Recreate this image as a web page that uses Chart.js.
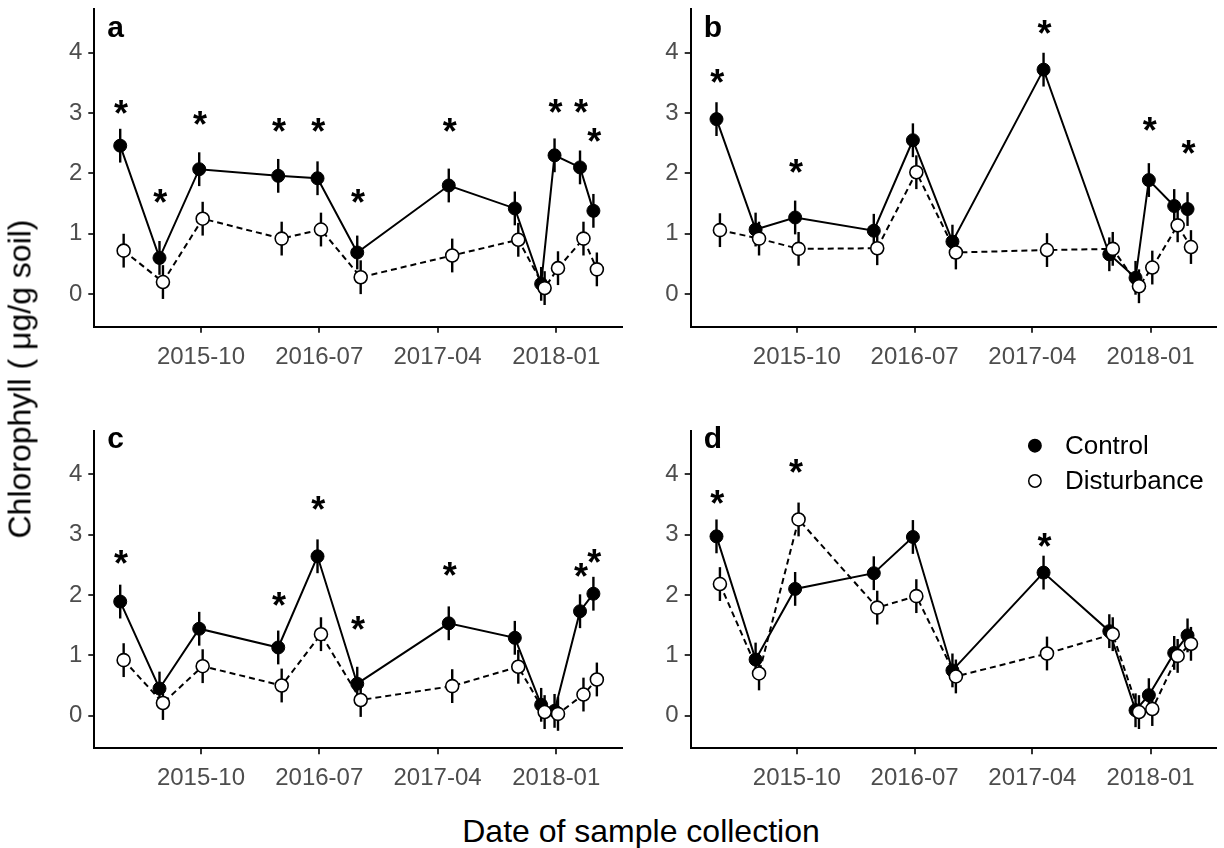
<!DOCTYPE html>
<html>
<head>
<meta charset="utf-8">
<script src="https://cdn.jsdelivr.net/npm/chart.js@4.4.0/dist/chart.umd.min.js"></script>
<style>
  body { margin: 0; background: #fff; width: 1224px; height: 848px; position: relative; overflow: hidden;
         font-family: "Liberation Sans", Arial, sans-serif; }
  canvas { position: absolute; }
  #ytitle { position: absolute; left: 20px; top: 379px; transform: translate(-50%, -50%) rotate(-90deg);
            font-size: 32px; white-space: nowrap; color: #000; }
  #xtitle { position: absolute; left: 641px; top: 831px; transform: translate(-50%, -50%);
            font-size: 32px; white-space: nowrap; color: #000; }
</style>
</head>
<body>
<canvas id="pa" width="630" height="390" style="left:0;top:0"></canvas>
<canvas id="pb" width="604" height="390" style="left:620px;top:0"></canvas>
<canvas id="pc" width="630" height="380" style="left:0;top:420px"></canvas>
<canvas id="pd" width="604" height="380" style="left:620px;top:420px"></canvas>
<div id="ytitle">Chlorophyll ( μg/g soil)</div>
<div id="xtitle">Date of sample collection</div>

<script>
// sampling dates (same for all panels)
const sampleDates = ["2015-04-01", "2015-07-01", "2015-10-01", "2016-04-01", "2016-07-01", "2016-10-01",
                     "2017-05-01", "2017-10-01", "2017-12-01", "2018-01-01", "2018-03-01", "2018-04-01"];
const tickDates = ["2015-10-01", "2016-07-01", "2017-04-01", "2018-01-01"];
const tickLabels = ["2015-10", "2016-07", "2017-04", "2018-01"];
const yTicks = [0, 1, 2, 3, 4];
const seriesNames = ["Control", "Disturbance"];

// panel a
const controlA = [2.46, 0.60, 2.07, 1.96, 1.92, 0.69, 1.80, 1.42, 0.17, 2.30, 2.10, 1.38];
const disturbA = [0.72, 0.20, 1.25, 0.92, 1.07, 0.28, 0.64, 0.90, 0.10, 0.43, 0.92, 0.41];
const starsA   = [3.10, 1.62, 2.92, 2.81, 2.81, 1.62, 2.81, null, null, 3.11, 3.11, 2.63];
// panel b
const controlB = [2.90, 1.07, 1.27, 1.05, 2.55, 0.87, 3.72, 0.66, 0.27, 1.89, 1.46, 1.41];
const disturbB = [1.06, 0.92, 0.75, 0.76, 2.02, 0.69, 0.73, 0.75, 0.13, 0.44, 1.14, 0.78];
const starsB   = [3.61, null, 2.13, null, null, null, 4.42, null, null, 2.82, null, 2.43];
// panel c
const controlC = [1.89, 0.45, 1.44, 1.13, 2.64, 0.53, 1.53, 1.29, 0.18, 0.08, 1.73, 2.02];
const disturbC = [0.92, 0.21, 0.82, 0.50, 1.35, 0.26, 0.49, 0.81, 0.06, 0.03, 0.35, 0.60];
const starsC   = [2.62, null, null, 1.93, 3.53, 1.53, 2.43, null, null, null, 2.42, 2.64];
// panel d
const controlD = [2.97, 0.93, 2.10, 2.36, 2.96, 0.75, 2.37, 1.40, 0.09, 0.34, 1.04, 1.33];
const disturbD = [2.18, 0.70, 3.25, 1.79, 1.98, 0.65, 1.03, 1.35, 0.06, 0.11, 0.99, 1.19];
const starsD   = [3.62, null, 4.13, null, null, null, 2.91, null, null, null, null, null];

const seHalf = 0.28; // error bar half length, all points

const DAY = 86400000;
const dodge = 4 * DAY;
const xMin = Date.parse("2015-01-27");
const xMax = Date.parse("2018-06-02");
const yMin = -0.54, yMax = 4.72;
const FONT = '"Liberation Sans", Arial, sans-serif';

Chart.defaults.font.family = FONT;

function pts(vals, shift) {
  return vals.map((v, i) => ({ x: Date.parse(sampleDates[i]) + shift, y: v }));
}

function makePanel(id, letter, letterDy, ctrl, dist, stars, box, withLegend) {
  const extras = {
    id: "extras" + id,
    beforeDatasetsDraw(chart) {
      const { ctx, scales: { x, y } } = chart;
      ctx.save();
      ctx.strokeStyle = "#000";
      ctx.lineWidth = 2.4;
      [[ctrl, -dodge], [dist, dodge]].forEach(([vals, sh]) => {
        vals.forEach((v, i) => {
          const px = x.getPixelForValue(Date.parse(sampleDates[i]) + sh);
          ctx.beginPath();
          ctx.moveTo(px, y.getPixelForValue(v - seHalf));
          ctx.lineTo(px, y.getPixelForValue(v + seHalf));
          ctx.stroke();
        });
      });
      ctx.restore();
    },
    afterDatasetsDraw(chart) {
      const { ctx, chartArea, scales: { x, y } } = chart;
      ctx.save();
      ctx.fillStyle = "#000";
      // significance stars
      ctx.font = "bold 36px " + FONT;
      ctx.textAlign = "center";
      ctx.textBaseline = "alphabetic";
      const m = ctx.measureText("*");
      const off = (m.actualBoundingBoxAscent - m.actualBoundingBoxDescent) / 2;
      stars.forEach((s, i) => {
        if (s === null) return;
        const px = x.getPixelForValue(Date.parse(sampleDates[i]) - dodge / 2);
        ctx.fillText("*", px, y.getPixelForValue(s) + off);
      });
      // panel letter
      ctx.font = "bold 30px " + FONT;
      ctx.textAlign = "left";
      ctx.fillText(letter, chartArea.left + 13, chartArea.top + letterDy);
      // legend
      if (withLegend) {
        const lx = chartArea.right - 181;
        ctx.font = "26px " + FONT;
        ctx.textBaseline = "middle";
        seriesNames.forEach((name, k) => {
          const ly = chartArea.top + 15 + k * 35.3;
          ctx.beginPath();
          ctx.arc(lx, ly, 6.2, 0, Math.PI * 2);
          ctx.fillStyle = k === 0 ? "#000" : "#fff";
          ctx.fill();
          ctx.lineWidth = 1.5;
          ctx.strokeStyle = "#000";
          ctx.stroke();
          ctx.fillStyle = "#000";
          ctx.fillText(name, lx + 30, ly + 1);
        });
      }
      ctx.restore();
    }
  };

  return new Chart(document.getElementById(id), {
    type: "line",
    data: {
      datasets: [
        { label: "Disturbance", data: pts(dist, dodge), showLine: false, pointRadius: 6.5,
          pointBackgroundColor: "#fff", pointBorderColor: "#000", pointBorderWidth: 1.6 },
        { label: "Control", data: pts(ctrl, -dodge), showLine: false, pointRadius: 6.5,
          pointBackgroundColor: "#000", pointBorderColor: "#000", pointBorderWidth: 1 },
        { data: pts(dist, dodge), borderColor: "#000", borderWidth: 2, borderDash: [6, 4],
          pointRadius: 0, tension: 0, fill: false },
        { data: pts(ctrl, -dodge), borderColor: "#000", borderWidth: 2,
          pointRadius: 0, tension: 0, fill: false }
      ]
    },
    options: {
      responsive: false,
      animation: false,
      devicePixelRatio: 1,
      layout: { padding: { left: 0, right: box.right, top: box.top, bottom: 0 } },
      plugins: { legend: { display: false }, tooltip: { enabled: false } },
      scales: {
        x: {
          type: "linear", min: xMin, max: xMax,
          afterBuildTicks: s => { s.ticks = tickDates.map(d => ({ value: Date.parse(d) })); },
          afterFit: s => { s.height = box.xh; s.paddingLeft = 0; s.paddingRight = 0; },
          ticks: { callback: (v, i) => tickLabels[i], color: "#4d4d4d", font: { size: 24 },
                   padding: 10, autoSkip: false, maxRotation: 0 },
          grid: { display: true, drawOnChartArea: false, drawTicks: true, tickLength: 6,
                  color: "#333", lineWidth: 2 },
          border: { display: true, color: "#000", width: 2 }
        },
        y: {
          type: "linear", min: yMin, max: yMax,
          afterBuildTicks: s => { s.ticks = yTicks.map(v => ({ value: v })); },
          afterFit: s => { s.width = box.yw; s.paddingTop = 0; s.paddingBottom = 0; },
          ticks: { color: "#4d4d4d", font: { size: 24 }, padding: 6 },
          grid: { display: true, drawOnChartArea: false, drawTicks: true, tickLength: 6,
                  color: "#333", lineWidth: 2 },
          border: { display: true, color: "#000", width: 2 }
        }
      }
    },
    plugins: [extras]
  });
}

makePanel("pa", "a", 27.4, controlA, disturbA, starsA, { yw: 94.3, right: 5, top: 9.3, xh: 63.3 }, false);
makePanel("pb", "b", 27.4, controlB, disturbB, starsB, { yw: 70.7, right: 2, top: 9.3, xh: 63.3 }, false);
makePanel("pc", "c", 17.6, controlC, disturbC, starsC, { yw: 94.3, right: 5, top: 10.7, xh: 51.7 }, false);
makePanel("pd", "d", 17.6, controlD, disturbD, starsD, { yw: 70.7, right: 2, top: 10.7, xh: 51.7 }, true);
</script>
</body>
</html>
